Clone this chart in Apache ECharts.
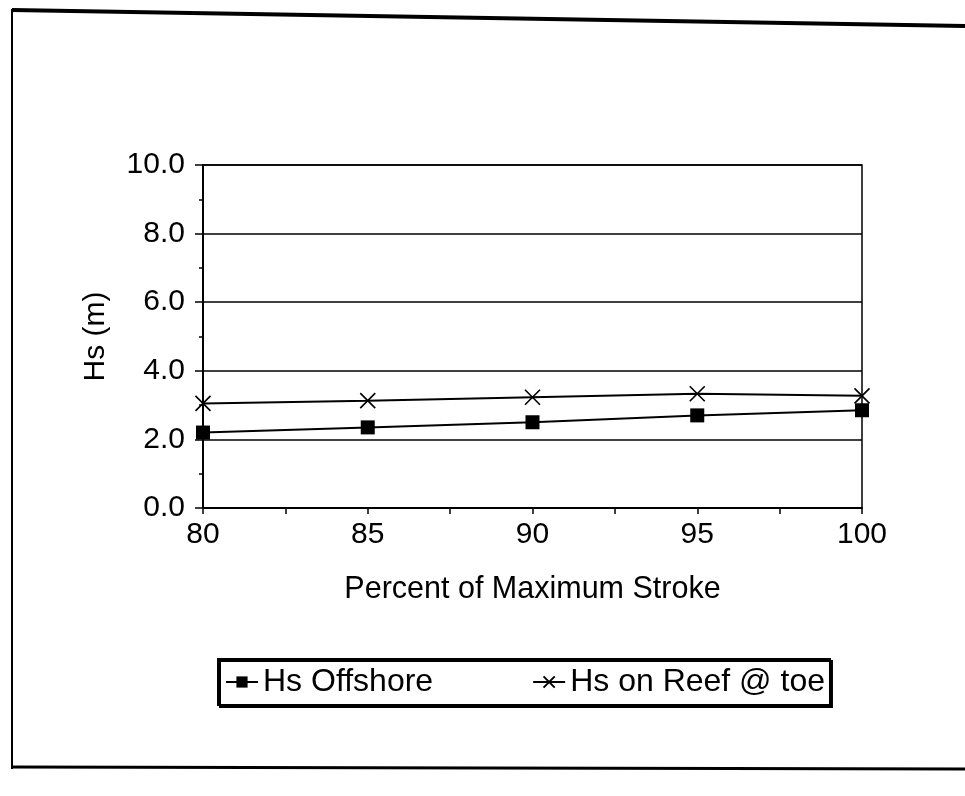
<!DOCTYPE html>
<html>
<head>
<meta charset="utf-8">
<script src="https://cdn.jsdelivr.net/npm/echarts@6/dist/echarts.min.js"></script>
<style>
html,body{margin:0;padding:0;background:#fff;}
#chart{width:965px;height:796px;}
</style>
</head>
<body>
<div id="chart"></div>
<script>
var strokePct = [80, 85, 90, 95, 100];
var hsOffshore = [2.2, 2.35, 2.5, 2.7, 2.85];
var hsReefToe = [3.05, 3.13, 3.23, 3.33, 3.27];
var seriesNames = ['Hs Offshore', 'Hs on Reef @ toe'];

var fontFam = '"Liberation Sans", Arial, sans-serif';

function pairs(xs, ys){
	var out = [];
	for (var i = 0; i < xs.length; i++) out.push([xs[i], ys[i]]);
	return out;
}

var myChart = echarts.init(document.getElementById('chart'), null, {renderer: 'canvas'});
var option = {
	backgroundColor: '#fff',
	animation: false,
	textStyle: {fontFamily: fontFam, color: '#000'},
	grid: {
		left: 203, right: 103, top: 165, bottom: 288,
		show: true, borderColor: '#000', borderWidth: 1.5, backgroundColor: 'transparent'
	},
	legend: {
		left: 218, top: 659,
		padding: [7, 5, 7, 7],
		itemGap: 99,
		itemWidth: 32, itemHeight: 14,
		backgroundColor: '#fff',
		borderColor: '#000', borderWidth: 2,
		shadowColor: '#000', shadowBlur: 0, shadowOffsetX: 2, shadowOffsetY: 2,
		textStyle: {fontFamily: fontFam, fontSize: 32, color: '#000'},
		data: seriesNames
	},
	xAxis: {
		type: 'value', min: 80, max: 100, interval: 5,
		name: 'Percent of Maximum Stroke',
		nameLocation: 'middle', nameGap: 66,
		nameTextStyle: {fontFamily: fontFam, fontSize: 30.5, color: '#000'},
		axisLine: {show: true, lineStyle: {color: '#000', width: 2}},
		axisTick: {show: true, length: 6, lineStyle: {color: '#000', width: 1.5}},
		minorTick: {show: true, splitNumber: 2, length: 6, lineStyle: {color: '#000', width: 1.5}},
		axisLabel: {fontFamily: fontFam, fontSize: 30, color: '#000', margin: 12},
		splitLine: {show: false}
	},
	yAxis: {
		type: 'value', min: 0, max: 10, interval: 2,
		name: 'Hs (m)',
		nameLocation: 'middle', nameGap: 92,
		nameTextStyle: {fontFamily: fontFam, fontSize: 30, color: '#000'},
		axisLine: {show: true, lineStyle: {color: '#000', width: 2}},
		axisTick: {show: true, length: 8, lineStyle: {color: '#000', width: 1.5}},
		minorTick: {show: true, splitNumber: 2, length: 4, lineStyle: {color: '#000', width: 1.5}},
		axisLabel: {
			fontFamily: fontFam, fontSize: 30, color: '#000', margin: 18,
			formatter: function(v){ return v.toFixed(1); }
		},
		splitLine: {show: true, lineStyle: {color: '#000', width: 1.5}}
	},
	series: [
		{
			name: seriesNames[0],
			type: 'line',
			data: pairs(strokePct, hsOffshore),
			symbol: 'rect', symbolSize: 14,
			showAllSymbol: true,
			lineStyle: {color: '#000', width: 2},
			itemStyle: {color: '#000'},
			z: 3
		},
		{
			name: seriesNames[1],
			type: 'line',
			data: pairs(strokePct, hsReefToe),
			symbol: 'path://M0,0L10,10M10,0L0,10', symbolSize: 15,
			showAllSymbol: true,
			lineStyle: {color: '#000', width: 2},
			itemStyle: {color: 'rgba(0,0,0,0)', borderColor: '#000', borderWidth: 1.6},
			z: 4
		}
	],
	graphic: [
		{type: 'line', shape: {x1: 12, y1: 10, x2: 965, y2: 26}, style: {stroke: '#000', lineWidth: 4}},
		{type: 'line', shape: {x1: 12, y1: 9, x2: 12, y2: 769}, style: {stroke: '#000', lineWidth: 2}},
		{type: 'line', shape: {x1: 11, y1: 767, x2: 965, y2: 769}, style: {stroke: '#000', lineWidth: 3}}
	]
};
myChart.setOption(option);
</script>
</body>
</html>
